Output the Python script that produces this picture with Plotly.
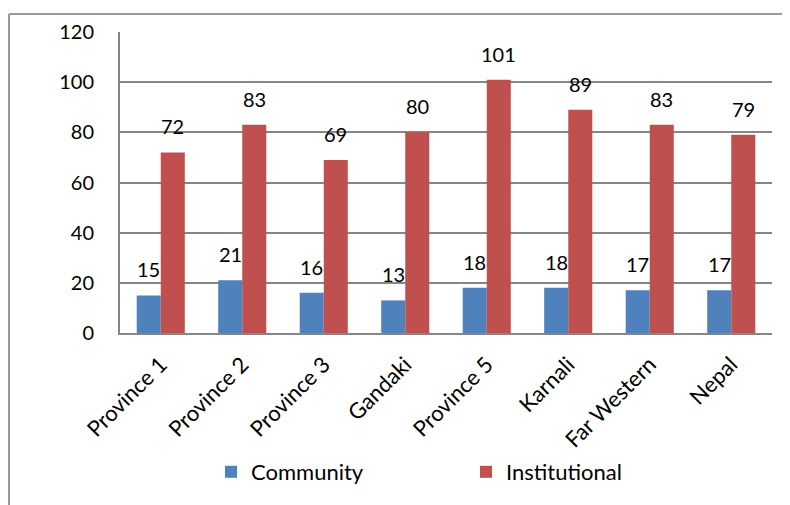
import plotly.graph_objects as go

categories = ["Province 1", "Province 2", "Province 3", "Gandaki", "Province 5", "Karnali", "Far Western", "Nepal"]
community = [15, 21, 16, 13, 18, 18, 17, 17]
institutional = [72, 83, 69, 80, 101, 89, 83, 79]
y_ticks = [0, 20, 40, 60, 80, 100, 120]

OFF = 8  # page body margin offset
W, H = 790 - OFF, 505 - OFF
L, R, T, B = 120 - OFF, 18, 32 - OFF, 172
pw, ph = W - L - R, H - T - B

def px(x):
    return (x - OFF - L) / pw

def py(y):
    return (H - B - (y - OFF)) / ph

FONT = "Lato, Calibri, Carlito, sans-serif"
FS = 20
FS_TXT = 22
BAR_HALF = 12

fig = go.Figure()
fig.add_trace(go.Bar(
    x=categories, y=community, name="Community",
    marker=dict(color="#4F81BD", line=dict(width=0)),
))
fig.add_trace(go.Bar(
    x=categories, y=institutional, name="Institutional",
    marker=dict(color="#C0504D", line=dict(width=0)),
))

annotations = []
for cat, v in zip(categories, community):
    annotations.append(dict(x=cat, y=v, xref="x", yref="y", text=str(v), showarrow=False,
                            xanchor="center", yanchor="bottom", xshift=-BAR_HALF, yshift=12,
                            font=dict(size=FS, family=FONT, color="#000000")))
for cat, v in zip(categories, institutional):
    annotations.append(dict(x=cat, y=v, xref="x", yref="y", text=str(v), showarrow=False,
                            xanchor="center", yanchor="bottom", xshift=BAR_HALF, yshift=12,
                            font=dict(size=FS, family=FONT, color="#000000")))

fig.update_layout(
    width=W, height=H,
    margin=dict(l=L, r=R, t=T, b=B, pad=0, autoexpand=False),
    paper_bgcolor="white", plot_bgcolor="white",
    font=dict(family=FONT, size=FS, color="#000000"),
    barmode="group", bargap=0.41, bargroupgap=0,
    showlegend=True,
    legend=dict(orientation="h", x=px(211), y=py(472), xanchor="left", yanchor="middle",
                font=dict(size=FS_TXT, family=FONT), entrywidth=210, entrywidthmode="pixels",
                traceorder="normal", bgcolor="rgba(0,0,0,0)"),
    xaxis=dict(showgrid=False, showline=True, linecolor="#868686", linewidth=2, automargin=False,
               tickangle=-45, ticks="", ticklabelstandoff=8, tickfont=dict(size=FS_TXT, family=FONT)),
    yaxis=dict(range=[0, 120], tickvals=y_ticks, showgrid=True, gridcolor="#868686", gridwidth=1.5,
               showline=True, linecolor="#868686", linewidth=2, ticks="", zeroline=False, automargin=False,
               ticklabelstandoff=20, tickfont=dict(size=FS, family=FONT)),
    annotations=annotations,
    shapes=[
        dict(type="line", xref="paper", yref="paper", x0=px(9), x1=px(790), y0=py(14), y1=py(14),
             line=dict(color="#9A9A9A", width=2)),
        dict(type="line", xref="paper", yref="paper", x0=px(9), x1=px(9), y0=py(14), y1=py(505),
             line=dict(color="#9A9A9A", width=2)),
    ],
)

fig.write_html("out.html")
